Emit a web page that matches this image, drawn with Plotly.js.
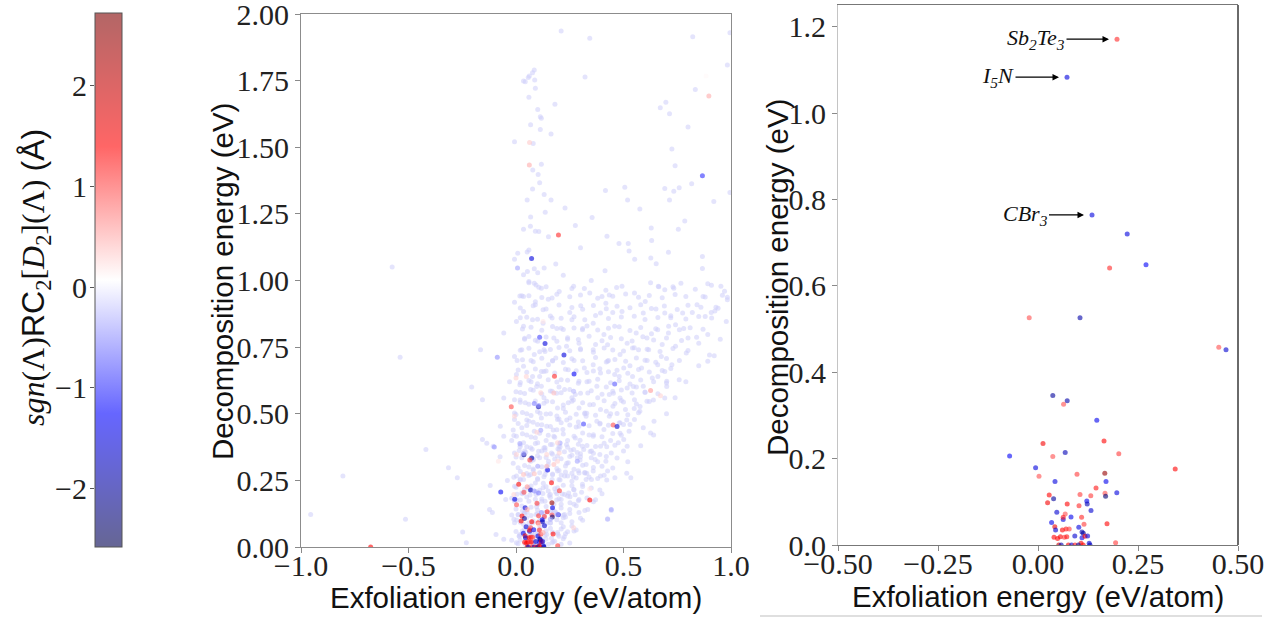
<!DOCTYPE html>
<html>
<head>
<meta charset="utf-8">
<script src="https://cdn.plot.ly/plotly-3.0.1.min.js"></script>
<style>html,body{margin:0;padding:0;background:#fff;}#chart{width:1277px;height:619px;}</style>
</head>
<body>
<div id="chart"></div>
<script>
// ---- colored points (non-zero sgn(Λ)RC2[D2](Λ)) ----
const exf_c = [0.1975,0.0725,0.135,0.223,0.179,0.27,-0.022,0.105,0.452,0.47,
  0.037,0.073,0.064,0.147,0.0125,0.165,-0.071,0.037,0.068,0.202,
  0.343,-0.006,0.0025,0.0975,0.167,0.0425,0.17,0.028,0.105,0.132,
  0.145,0.1675,0.169,0.197,0.039,0.024,0.073,0.122,0.123,0.1025,
  0.1325,0.047,0.068,0.063,0.063,0.0825,0.109,0.034,0.1725,0.042,
  0.044,0.061,0.07,0.078,0.102,0.115,0.11,0.1133,0.04,0.049,
  0.056,0.066,0.072,0.092,0.11,0.1175,0.124,0.1075,0.128,0.194,
  0.052,0.058,0.076,0.084,0.0925,0.101,0.113,0.13,
  -0.676,0.867,
  0.897,0.884,0.062,0.063,0.007,0.626,0.672,0.126,0.459,0.314,
  0.11,-0.087,0.085,0.106,-0.007,0.176,0.115,0.048,-0.101,0.018,
  0.115,0.285,0.205,0.035,0.097,0.193,0.143,0.193,-0.082,0.443,
  0.426,0.126,0.052,0.052,0.035,0.085,0.143,0.176,0.201,0.085,
  0.105,0.002,0.0,0.268,0.343,0.268,0.118,0.16,0.106,0.193,
  -0.01,0.101];
const dec_c = [1.171,1.083,0.764,0.72,0.641,0.649,0.526,0.526,0.458,0.452,
  0.346,0.334,0.326,0.289,0.235,0.241,0.206,0.205,0.214,0.211,
  0.176,0.179,0.159,0.164,0.166,0.147,0.147,0.116,0.117,0.114,
  0.132,0.12,0.113,0.121,0.107,0.098,0.095,0.102,0.095,0.091,
  0.08,0.076,0.072,0.059,0.064,0.065,0.064,0.052,0.049,0.042,
  0.035,0.035,0.037,0.037,0.041,0.048,0.03,0.027,0.018,0.015,
  0.019,0.018,0.019,0.021,0.017,0.02,0.021,0.004,0.004,0.005,
  0.0,0.0,0.0,0.0,0.0,0.0,0.0,0.0,
  0.0,1.393,
  1.692,1.767,1.433,1.518,1.047,0.587,0.568,0.846,0.612,0.462,
  0.787,0.712,0.538,0.531,0.491,0.578,0.579,0.64,0.375,0.388,
  0.438,0.322,0.39,0.351,0.431,0.322,0.347,0.391,0.322,0.141,
  0.104,0.054,0.141,0.226,0.272,0.275,0.303,0.31,0.353,0.21,
  0.203,0.347,0.634,0.072,0.218,0.584,0.129,0.104,0.085,0.122,
  0.197,0.303];
const rc_c = [1.2,-1.5,-1.5,-1.5,1.2,-1.3,1.0,-1.9,1.0,-1.6,
  -2.0,-1.9,1.0,-1.4,1.5,1.4,-1.3,1.0,-1.8,1.1,
  1.4,-1.5,1.0,1.1,2.5,-1.5,-1.4,1.4,1.1,1.1,
  1.3,1.0,-2.3,-1.5,-2.0,1.5,1.4,-1.4,-1.8,1.2,
  -1.6,-1.6,1.0,-1.5,1.3,-1.4,1.2,-1.4,1.4,1.6,
  -1.6,1.4,1.3,1.1,-1.5,1.1,-1.8,-2.0,1.4,1.4,
  1.4,1.1,1.3,-1.6,-1.4,1.4,-1.5,1.5,-1.6,1.1,
  2.0,-1.8,1.5,-1.6,1.3,-2.0,1.4,-1.8,
  1.4,-1.0,
  0.5,0.1,0.5,0.35,-0.4,0.6,0.3,0.2,-0.8,-0.9,
  -0.9,-0.5,-0.6,-0.5,0.3,0.4,0.3,0.3,-0.5,-0.4,
  -0.4,-0.4,-0.4,-0.4,0.3,0.3,0.3,0.3,0.2,-0.4,
  -0.3,0.5,0.5,0.6,0.4,0.4,0.4,0.4,0.3,-0.5,
  -0.6,0.3,0.3,0.3,0.2,-0.3,-0.5,-0.4,0.4,-0.4,
  0.3,-0.4];

// ---- background points (value 0), read from the sparse regions ----
const exf_bg = [0.21,0.343,0.822,0.995,0.983,0.321,0.834,0.035,0.057,0.085,0.077,0.062,0.087,0.043,0.09,0.06,
  0.181,0.101,0.118,0.113,0.671,0.697,0.714,0.8,0.068,0.113,0.163,-0.007,0.08,0.725,0.74,0.118,0.078,0.103,
  0.817,0.11,0.077,0.416,0.506,0.692,0.759,0.734,0.995,0.131,0.052,0.163,0.519,0.714,0.92,0.228,0.576,0.136,
  0.068,0.354,0.785,0.276,0.629,0.755,0.035,0.067,0.09,0.106,0.151,0.423,0.479,0.522,0.526,0.3,0.631,0.709,
  0.867,0.008,0.052,0.06,-0.007,0.552,0.627,0.652,0.414,0.185,0.131,0.101,0.085,0.053,0.035,-0.576,0.867,
  0.26,0.318,0.418,0.468,0.626,0.664,0.73,0.834,0.909,0.953,0.118,0.14,0.093,0.06,0.018,0.035,0.983,
  0.06,0.085,0.106,0.027,-0.007,0.035,0.09,0.126,0.168,0.268,0.201,0.343,0.434,0.493,0.551,0.601,0.662,0.692,
  0.734,0.767,0.892,0.908,0.925,0.983,0.978,0.88,0.842,0.775,0.692,0.592,0.651,0.493,0.418,0.301,0.393,
  0.892,0.8,0.742,0.709,0.659,0.609,0.559,0.517,0.459,0.409,0.359,0.309,0.26,0.21,0.168,0.126,0.077,0.035,
  0.002,-0.057,0.06,0.101,0.176,0.235,0.293,0.359,0.426,0.484,0.542,0.617,0.676,0.742,0.792,0.85,0.922,0.892,
  -0.007,0.027,0.085,0.135,0.185,-0.165,-0.539,
  0.725,0.692,0.659,0.634,0.759,0.701,0.584,0.542,0.517,0.592,0.501,0.459,0.426,0.393,0.359,0.318,0.293,
  0.243,0.21,0.151,0.118,0.077,0.035,0.002,0.018,0.068,0.118,0.168,0.226,0.276,0.334,0.376,0.434,0.484,0.551,
  0.609,0.692,0.576,0.509,0.451,0.393,0.343,0.293,0.243,0.193,0.143,0.101,0.043,-0.007,-0.007,-0.057,-0.206,-0.156,
  0.642,0.592,0.626,0.551,0.526,0.501,0.484,0.434,0.409,0.376,0.359,0.326,0.293,0.276,0.251,0.218,0.193,0.176,
  0.143,0.118,0.085,0.06,0.027,0.002,-0.007,0.035,0.068,0.101,0.135,0.168,0.201,0.235,0.268,0.309,0.351,0.393,
  0.443,0.476,0.517,0.418,0.368,0.326,0.285,0.243,0.193,0.151,0.11,0.068,0.027,-0.007,-0.057,-0.106,-0.156,-0.419,-0.073,
  0.426,0.393,0.359,0.326,0.293,0.26,0.226,0.193,0.168,0.135,0.101,0.068,0.035,0.002,-0.007,0.027,0.06,0.093,
  0.126,0.16,0.193,0.226,0.268,0.309,0.351,0.293,0.251,0.21,0.176,0.135,0.101,0.06,0.027,-0.007,-0.048,-0.12,
  -0.314,-0.273,-0.805,0.534,
  0.334,0.293,0.226,0.185,0.135,0.093,0.052,0.01,-0.007,0.035,0.077,0.118,0.16,0.21,0.26,0.193,0.143,0.101,
  0.06,0.018,0.002,0.043,0.085,0.126,0.168,0.21,0.426,0.443,-0.11,-0.123,-0.248,-0.231,-0.514,-0.955,-0.057,-0.093,
  0.019,0.05,0.112,0.173,0.236,0.298,0.205,0.019,0.08,0.143,0.236,0.298,0.36,0.422,0.484,0.515,0.577,0.639,
  0.019,0.065,0.127,0.205,0.267,0.329,0.003,0.096,0.189,0.251,0.003,0.065,0.143,0.22,0.019,0.096,0.173,-0.013,
  -0.013,-0.136,-0.074,0.422,0.515,0.391,0.329,0.267,0.189,0.096,0.453,0.546,0.701,
  0.03,0.08,0.14,0.2,0.04,0.11,0.17,0.22,0.03,0.09,0.15,0.21,0.26,0.06,0.12,0.18,0.24,0.3,0.05,0.1,0.16,0.22,
  0.28,0.34,0.02,0.07,0.14,0.2,0.27,0.33,0.38,0.44,0.5,0.55,0.6,0.07,0.13,0.19,0.04,0.25,0.31,0.37,0.43,0.48,
  0.53,0.57,0.63,0.68,0.72,0.78,0.82,0.87,0.93,0.97,0.45,0.4,0.35,0.22,0.15,0.02,0.09,0.005,-0.03,-0.02,-0.04,
  -0.02,0.27,0.31,0.36,0.4,0.46,0.52,0.58,0.64,0.7,0.74,0.79,0.85,0.9,0.95,0.66,0.61,0.56,0.49,0.42,0.36,0.3,
  0.24,0.17,0.11,0.05,0.13,0.19,0.25,0.32,0.38,0.44,0.5,0.27,0.23,0.19,0.12,0.06,0.015,0.1,0.16,0.21,0.08,0.14,
  0.2,0.26,0.32,0.04,0.09];
const dec_bg = [1.936,1.909,1.915,1.93,1.809,1.764,1.717,1.749,1.762,1.79,1.78,1.767,1.752,1.746,1.721,1.688,
  1.661,1.642,1.609,1.614,1.648,1.669,1.626,1.576,1.584,1.567,1.55,1.521,1.514,1.493,1.431,1.436,1.415,1.398,
  1.363,1.367,1.343,1.338,1.35,1.345,1.348,1.335,1.33,1.323,1.302,1.302,1.302,1.302,1.296,1.272,1.268,1.256,
  1.238,1.236,1.223,1.206,1.197,1.192,1.192,1.204,1.185,1.184,1.164,1.166,1.139,1.139,1.111,1.123,1.15,1.106,
  1.09,1.102,1.107,1.114,1.08,1.08,1.084,1.063,1.037,1.062,1.047,1.029,1.044,1.034,1.022,1.051,1.045,
  0.97,0.97,0.963,0.974,0.992,0.977,0.977,0.967,0.982,0.978,0.971,0.977,0.983,0.992,0.942,0.94,0.937,
  0.996,0.99,0.975,0.943,0.918,0.884,0.909,0.89,0.934,0.978,0.959,0.953,0.946,0.978,0.953,0.921,0.978,0.965,
  0.971,0.99,0.988,0.88,0.886,0.928,0.846,0.865,0.909,0.878,0.878,0.878,0.893,0.884,0.915,0.905,0.878,
  0.797,0.784,0.834,0.803,0.815,0.784,0.803,0.765,0.828,0.797,0.84,0.815,0.853,0.821,0.859,0.84,0.853,0.828,
  0.846,0.803,0.79,0.772,0.784,0.753,0.765,0.74,0.759,0.722,0.747,0.74,0.715,0.753,0.728,0.765,0.718,0.697,
  0.715,0.74,0.722,0.734,0.709,0.74,0.712,
  0.684,0.659,0.684,0.634,0.628,0.622,0.672,0.64,0.597,0.603,0.672,0.647,0.697,0.653,0.684,0.672,0.622,
  0.665,0.628,0.684,0.659,0.64,0.678,0.647,0.609,0.591,0.603,0.584,0.591,0.572,0.578,0.603,0.572,0.559,0.553,
  0.547,0.559,0.509,0.516,0.528,0.516,0.534,0.522,0.541,0.522,0.547,0.528,0.541,0.553,0.503,0.559,0.6,0.553,
  0.472,0.447,0.428,0.478,0.434,0.403,0.466,0.491,0.441,0.472,0.416,0.491,0.453,0.409,0.484,0.441,0.478,0.416,
  0.453,0.484,0.434,0.472,0.447,0.416,0.478,0.391,0.372,0.391,0.372,0.385,0.366,0.385,0.366,0.378,0.36,0.378,
  0.353,0.391,0.378,0.322,0.328,0.31,0.335,0.316,0.341,0.322,0.335,0.322,0.335,0.353,0.416,0.378,0.403,0.366,0.453,
  0.285,0.266,0.285,0.253,0.278,0.247,0.266,0.285,0.253,0.272,0.253,0.272,0.253,0.266,0.228,0.203,0.222,0.197,
  0.222,0.197,0.222,0.197,0.216,0.235,0.253,0.178,0.166,0.178,0.16,0.172,0.16,0.172,0.154,0.172,0.178,0.231,
  0.297,0.26,0.266,0.26,
  0.141,0.129,0.122,0.129,0.129,0.122,0.129,0.122,0.091,0.085,0.091,0.085,0.091,0.091,0.079,0.054,0.047,0.054,
  0.041,0.047,0.016,0.01,0.016,0.01,0.016,0.01,0.106,0.137,0.129,0.141,0.056,0.016,0.104,0.122,0.029,0.047,
  0.552,0.477,0.502,0.439,0.477,0.401,0.376,0.376,0.326,0.301,0.314,0.326,0.352,0.376,0.427,0.477,0.527,0.552,
  0.251,0.214,0.239,0.251,0.264,0.277,0.176,0.151,0.176,0.189,0.101,0.076,0.089,0.076,0.026,0.039,0.02,0.439,
  0.314,0.389,0.339,0.251,0.277,0.464,0.502,0.552,0.577,0.602,0.577,0.602,0.602,
  0.06,0.02,0.03,0.04,0.13,0.1,0.14,0.11,0.2,0.24,0.21,0.27,0.23,0.3,0.36,0.33,0.4,0.35,0.42,0.46,0.5,0.52,
  0.45,0.42,0.58,0.62,0.66,0.6,0.7,0.62,0.56,0.5,0.46,0.52,0.58,0.7,0.74,0.82,0.78,0.88,0.82,0.76,0.7,0.64,
  0.68,0.74,0.8,0.76,0.86,0.82,0.88,0.94,0.9,0.96,0.88,0.94,1.0,1.02,0.93,0.86,0.92,0.7,0.62,0.4,0.25,
  0.12,0.06,0.1,0.17,0.2,0.26,0.32,0.38,0.42,0.5,0.56,0.62,0.68,0.72,0.78,0.64,0.7,0.6,0.55,0.6,0.66,0.74,
  0.78,0.7,0.64,0.5,0.56,0.44,0.34,0.28,0.32,0.4,0.36,0.16,0.05,0.2,0.18,0.09,0.04,0.05,0.07,0.16,0.33,0.4,
  0.48,0.56,0.5,0.36,0.41];

// ---- background points (value 0), dense wedge ----
const exf_core = [-0.02,0.01,0.05,0.09,0.12,0.15,0.18,0.22,0.25,
  0.0,0.04,0.08,0.11,0.14,0.17,0.21,0.24,0.28,
  -0.01,0.02,0.05,0.08,0.13,0.16,0.19,0.23,0.26,0.3,
  0.0,0.03,0.07,0.1,0.14,0.18,0.21,0.25,0.28,0.32,
  -0.02,0.02,0.05,0.09,0.12,0.16,0.2,0.24,0.29,0.33,0.37,
  0.0,0.04,0.07,0.11,0.14,0.18,0.22,0.27,0.31,0.35,0.39,
  -0.01,0.02,0.06,0.1,0.13,0.17,0.2,0.24,0.28,0.34,0.38,0.41,
  0.01,0.04,0.08,0.12,0.15,0.19,0.23,0.27,0.31,0.36,0.4,0.45,
  0.0,0.03,0.07,0.1,0.14,0.17,0.21,0.26,0.3,0.35,0.39,0.42,0.47,
  0.02,0.05,0.09,0.13,0.16,0.2,0.24,0.29,0.33,0.37,0.41,0.46,
  -0.01,0.03,0.07,0.11,0.15,0.18,0.22,0.27,0.31,0.36,0.4,0.45,0.49,
  0.01,0.05,0.08,0.12,0.16,0.21,0.25,0.29,0.34,0.39,0.43,0.48,0.53,
  0.0,0.03,0.07,0.1,0.14,0.19,0.23,0.28,0.32,0.37,0.42,0.47,0.52,0.57,
  0.02,0.06,0.09,0.13,0.17,0.22,0.26,0.31,0.36,0.41,0.46,0.5,0.56,0.62,
  0.0,0.04,0.08,0.12,0.16,0.21,0.25,0.3,0.35,0.4,0.45,0.49,0.54,0.6,0.66,
  0.02,0.06,0.1,0.15,0.19,0.24,0.29,0.34,0.38,0.44,0.48,0.53,0.58,0.64,0.7,
  0.01,0.05,0.09,0.13,0.18,0.23,0.28,0.33,0.39,0.43,0.47,0.52,0.57,0.62,0.68,0.72,
  0.03,0.08,0.12,0.17,0.22,0.26,0.31,0.37,0.42,0.46,0.51,0.56,0.6,0.65,0.7,0.76,
  0.02,0.06,0.11,0.16,0.2,0.25,0.3,0.36,0.41,0.45,0.5,0.55,0.61,0.67,0.73,0.8,
  0.04,0.09,0.14,0.19,0.24,0.29,0.34,0.4,0.44,0.49,0.54,0.59,0.64,0.7,0.77,0.84,
  0.03,0.07,0.12,0.17,0.22,0.27,0.33,0.38,0.43,0.48,0.53,0.58,0.65,0.71,0.76,0.81,0.87,
  0.05,0.1,0.16,0.21,0.27,0.32,0.37,0.43,0.49,0.55,0.6,0.66,0.72,0.79,0.85,0.91,
  0.02,0.08,0.14,0.2,0.26,0.31,0.36,0.42,0.47,0.53,0.58,0.63,0.69,0.75,0.8,0.86,0.94,
  0.06,0.12,0.19,0.25,0.3,0.38,0.45,0.51,0.57,0.62,0.68,0.74,0.79,0.88,0.96,
  0.015,0.045,0.075,0.105,0.135,0.165,0.195,0.225,
  0.01,0.04,0.07,0.1,0.13,0.16,0.19,0.22,0.25,
  0.005,0.035,0.065,0.095,0.125,0.155,0.185,0.215,0.245,0.275,0.305,
  0.02,0.05,0.08,0.11,0.14,0.17,0.2,0.23,0.26,0.29,0.32,
  0.015,0.045,0.075,0.105,0.135,0.165,0.195,0.225,0.255,0.285,0.315,0.345];
const dec_core = [0.025,0.012,0.03,0.018,0.028,0.01,0.022,0.031,0.015,
  0.058,0.066,0.052,0.07,0.061,0.055,0.068,0.057,0.064,
  0.104,0.093,0.111,0.098,0.107,0.09,0.102,0.113,0.095,0.108,
  0.143,0.136,0.149,0.139,0.152,0.134,0.146,0.141,0.155,0.137,
  0.183,0.176,0.188,0.179,0.172,0.186,0.181,0.191,0.174,0.184,0.177,
  0.224,0.217,0.229,0.213,0.226,0.219,0.232,0.215,0.227,0.221,0.214,
  0.262,0.255,0.268,0.257,0.264,0.271,0.253,0.266,0.259,0.263,0.257,0.269,
  0.297,0.306,0.293,0.301,0.309,0.295,0.304,0.292,0.307,0.298,0.303,0.296,
  0.338,0.345,0.333,0.342,0.336,0.348,0.331,0.344,0.339,0.335,0.347,0.34,0.334,
  0.383,0.376,0.388,0.372,0.385,0.379,0.374,0.386,0.381,0.377,0.389,0.382,
  0.418,0.425,0.413,0.427,0.419,0.412,0.424,0.416,0.428,0.421,0.414,0.426,0.419,
  0.463,0.456,0.468,0.459,0.452,0.466,0.458,0.469,0.455,0.462,0.457,0.465,0.46,
  0.497,0.505,0.493,0.508,0.499,0.492,0.506,0.498,0.503,0.494,0.509,0.501,0.496,0.504,
  0.543,0.536,0.548,0.539,0.545,0.533,0.547,0.541,0.535,0.549,0.538,0.544,0.537,0.546,
  0.583,0.576,0.588,0.574,0.585,0.579,0.591,0.577,0.586,0.573,0.584,0.589,0.578,0.582,0.575,
  0.617,0.625,0.613,0.628,0.619,0.626,0.614,0.622,0.629,0.616,0.624,0.612,0.627,0.62,0.615,
  0.664,0.656,0.668,0.659,0.653,0.667,0.661,0.655,0.669,0.658,0.663,0.652,0.666,0.657,0.662,0.67,
  0.703,0.695,0.708,0.698,0.692,0.706,0.699,0.711,0.694,0.704,0.697,0.709,0.701,0.693,0.707,0.7,
  0.738,0.746,0.733,0.741,0.749,0.736,0.744,0.731,0.747,0.739,0.735,0.748,0.742,0.734,0.745,0.737,
  0.783,0.776,0.788,0.772,0.785,0.779,0.791,0.774,0.786,0.781,0.773,0.789,0.777,0.784,0.775,0.787,
  0.818,0.825,0.813,0.827,0.816,0.822,0.829,0.814,0.821,0.826,0.812,0.824,0.819,0.828,0.815,0.823,0.817,
  0.862,0.855,0.867,0.858,0.864,0.853,0.869,0.857,0.863,0.866,0.854,0.861,0.868,0.856,0.865,0.859,
  0.897,0.905,0.893,0.908,0.899,0.892,0.906,0.894,0.903,0.898,0.909,0.895,0.904,0.891,0.907,0.9,0.896,
  0.943,0.936,0.948,0.939,0.946,0.933,0.941,0.949,0.937,0.944,0.935,0.947,0.94,0.938,0.945,
  0.041,0.036,0.047,0.039,0.044,0.033,0.048,0.038,
  0.121,0.127,0.118,0.125,0.116,0.129,0.123,0.119,0.126,
  0.198,0.204,0.195,0.207,0.201,0.193,0.206,0.199,0.203,0.196,0.205,
  0.283,0.276,0.288,0.279,0.285,0.274,0.287,0.281,0.277,0.286,0.278,
  0.362,0.356,0.367,0.359,0.364,0.353,0.368,0.357,0.363,0.355,0.366,0.358];

// ---- ticks / labels ----
const cbar_ticks = [-2, -1, 0, 1, 2];
const mid_xticks = [-1.0, -0.5, 0.0, 0.5, 1.0];
const mid_yticks = [0, 0.25, 0.5, 0.75, 1.0, 1.25, 1.5, 1.75, 2.0];
const zoom_xticks = [-0.5, -0.25, 0, 0.25, 0.5];
const zoom_yticks = [0, 0.2, 0.4, 0.6, 0.8, 1.0, 1.2];
const xTitle = 'Exfoliation energy (eV/atom)';
const yTitle = 'Decomposition energy (eV)';
const cTitle = '<i>sgn</i>(Λ)<span style="font-family:Liberation Sans">RC</span><sub>2</sub>[<i>D</i><sub>2</sub>](Λ) <span style="font-family:Liberation Sans">(Å)</span>';
const labels = [
  {name: '<i>Sb<sub>2</sub>Te<sub>3</sub></i>', x: 0.1975, y: 1.171, ax: -81},
  {name: '<i>I<sub>5</sub>N</i>', x: 0.0725, y: 1.083, ax: -69},
  {name: '<i>CBr<sub>3</sub></i>', x: 0.135, y: 0.764, ax: -67}
];

const W = 1277, H = 619;
const px = v => v / W, py = v => 1 - v / H;

// seismic colormap with alpha
const A = 0.6;
const seismic = [
  [0, `rgba(0,0,77,${A})`], [0.25, `rgba(0,0,255,${A})`], [0.5, `rgba(255,255,255,${A})`],
  [0.75, `rgba(255,0,0,${A})`], [1, `rgba(128,0,0,${A})`]
];
const CMIN = -2.58, CMAX = 2.72;

// right panel: strongly colored subset
const rx = [], ry = [], rcol = [];
for (let i = 0; i < rc_c.length; i++) {
  if (Math.abs(rc_c[i]) >= 1) { rx.push(exf_c[i]); ry.push(dec_c[i]); rcol.push(rc_c[i]); }
}

const serif = 'Liberation Serif, DejaVu Serif, serif';
const sans = 'Liberation Sans, Arial, sans-serif';
const bgx = exf_bg.concat(exf_core), bgy = dec_bg.concat(dec_core);

const traces = [
  {type: 'scatter', mode: 'markers', x: bgx, y: bgy, xaxis: 'x', yaxis: 'y',
   marker: {size: 5, color: 'rgba(205,205,250,0.55)', line: {width: 0}}, hoverinfo: 'skip', showlegend: false},
  {type: 'scatter', mode: 'markers', x: exf_c, y: dec_c, xaxis: 'x', yaxis: 'y',
   marker: {size: 5, color: rc_c, coloraxis: 'coloraxis', line: {width: 0}}, showlegend: false},
  {type: 'scatter', mode: 'markers', x: rx, y: ry, xaxis: 'x2', yaxis: 'y2',
   marker: {size: 5, color: rcol, coloraxis: 'coloraxis', line: {width: 0}}, showlegend: false},
  {type: 'scatter', mode: 'markers', x: [], y: [], xaxis: 'x3', yaxis: 'y3', showlegend: false, hoverinfo: 'skip'}
];

const TF = {family: serif, size: 30, color: '#222'};
const axBase = {
  showgrid: false, zeroline: false, ticks: 'outside', ticklen: 5, tickwidth: 1, tickcolor: '#8a8a8a',
  showline: true, linecolor: '#8c8c8c', linewidth: 1, tickfont: TF,
  automargin: false, ticklabeloverflow: 'allow'
};
const titleFont = {family: sans, size: 29.5, color: '#111'};

function title(text, x, y, angle, font) {
  return {xref: 'paper', yref: 'paper', x: x, y: y, xanchor: 'center', yanchor: 'middle',
          text: text, textangle: angle, showarrow: false, font: font || titleFont};
}

const layout = {
  width: W, height: H,
  margin: {l: 0, r: 0, t: 0, b: 0, autoexpand: false},
  paper_bgcolor: '#fff', plot_bgcolor: 'rgba(0,0,0,0)',
  showlegend: false,
  coloraxis: {
    colorscale: seismic, cmin: CMIN, cmax: CMAX,
    colorbar: {
      x: px(95), xanchor: 'left', y: py(13), yanchor: 'top',
      len: 534, lenmode: 'pixels', thickness: 27, thicknessmode: 'pixels',
      xpad: 0, ypad: 0, outlinewidth: 1, outlinecolor: '#555',
      ticks: '', showticklabels: false
    }
  },
  xaxis: Object.assign({}, axBase, {
    domain: [px(301), px(731)], range: [-1, 1], tickvals: mid_xticks, tickformat: '.1f', mirror: true, anchor: 'y',
    ticklabelstandoff: -13
  }),
  yaxis: Object.assign({}, axBase, {
    domain: [py(547), py(14)], range: [0, 2], tickvals: mid_yticks, tickformat: '.2f', mirror: true, anchor: 'x'
  }),
  xaxis2: Object.assign({}, axBase, {
    domain: [px(838), px(1238)], range: [-0.5, 0.5], tickvals: zoom_xticks, tickformat: '.2f', mirror: true,
    anchor: 'y2', linecolor: '#777', ticklabelstandoff: -13
  }),
  yaxis2: Object.assign({}, axBase, {
    domain: [py(545), py(5)], range: [0, 1.25], tickvals: zoom_yticks, tickformat: '.1f', anchor: 'x2',
    linecolor: '#c4c4c4'
  }),
  xaxis3: {domain: [px(95), px(122)], range: [0, 1], visible: false, anchor: 'y3', fixedrange: true},
  yaxis3: {
    domain: [py(547), py(13)], range: [CMIN, CMAX], anchor: 'x3', side: 'left',
    tickvals: cbar_ticks, ticks: 'outside', ticklen: 4, tickcolor: '#555', showline: false,
    showgrid: false, zeroline: false, tickfont: TF, automargin: false, ticklabelstandoff: -3,
    ticklabeloverflow: 'allow'
  },
  shapes: [
    {type: 'line', xref: 'x2 domain', yref: 'y2 domain', x0: 1, x1: 1, y0: 0, y1: 1, line: {color: '#6a6a6a', width: 2}},
    {type: 'line', xref: 'paper', yref: 'paper', x0: px(760), x1: px(1262), y0: py(616), y1: py(616), line: {color: '#d4d4d4', width: 1.5}}
  ],
  annotations: [
    title(xTitle, px(516), py(597), 0),
    title(xTitle, px(1038), py(596), 0),
    title(yTitle, px(222), py(282), -90),
    title(yTitle, px(777), py(278), -90),
    title(cTitle, px(35), py(278), -90, {family: serif, size: 32, color: '#111'})
  ].concat(labels.map(l => ({
    xref: 'x2', yref: 'y2', x: l.x, y: l.y, ax: l.ax, ay: 0, text: l.name,
    font: {family: serif, size: 22, color: '#111'},
    showarrow: true, arrowhead: 2, arrowsize: 1, arrowwidth: 1.3, arrowcolor: '#000', standoff: 8
  })))
};

Plotly.newPlot('chart', traces, layout, {staticPlot: true, displayModeBar: false});
</script>
</body>
</html>
